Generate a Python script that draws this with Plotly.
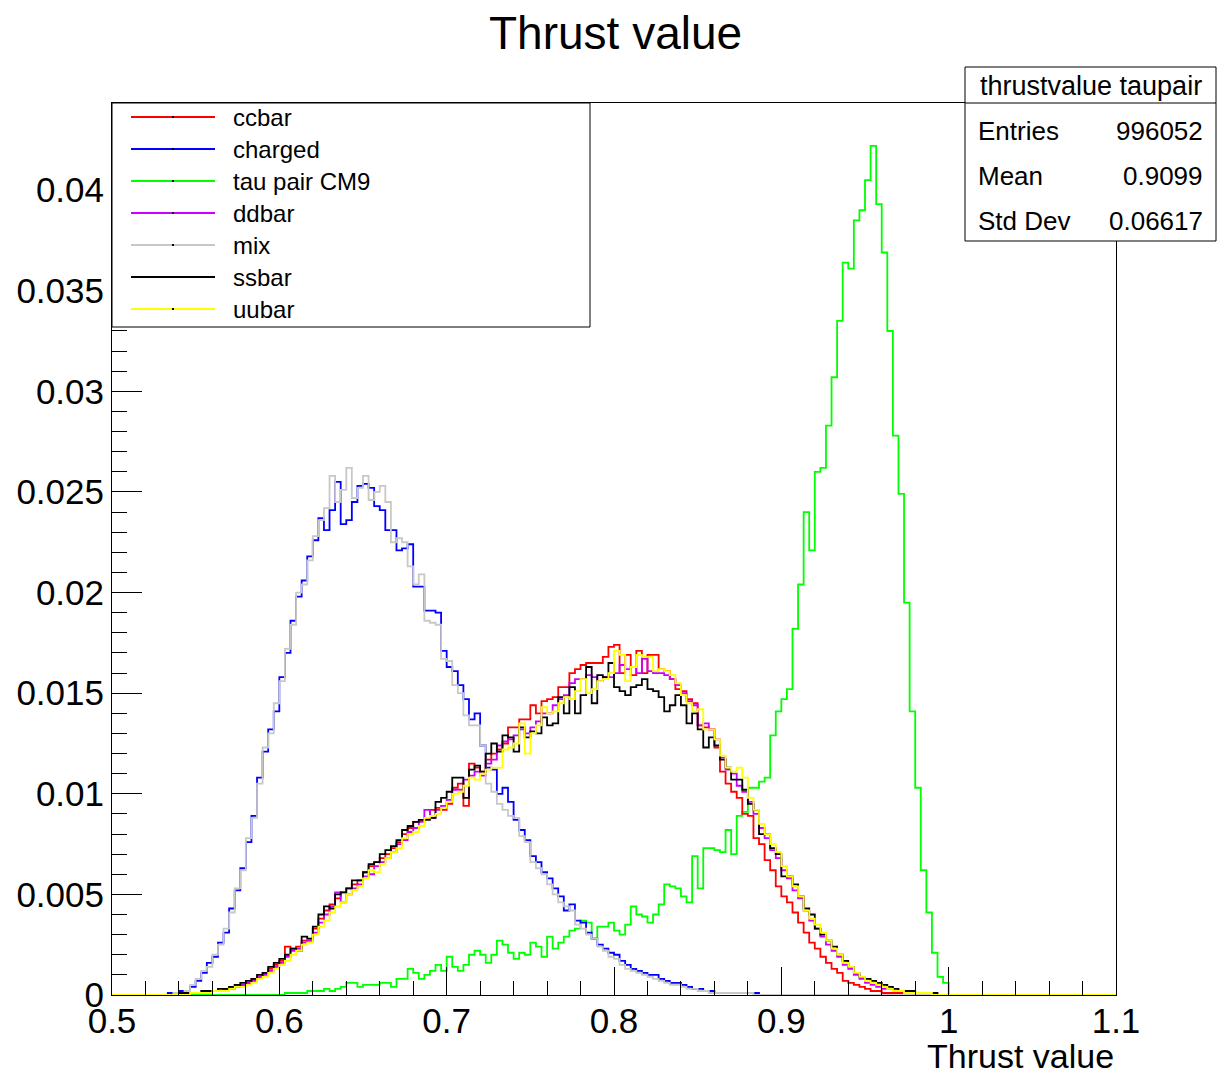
#!/usr/bin/env python3
"""
Thrust value distributions (ROOT-style step histograms) redrawn with plotly.
"""

import numpy as np
import plotly.graph_objects as go

# bins of width 1/300 from 0.5 to 1.0 (values in units of 1e-4); everything above 1.0 is empty
x_lo, x_hi, n_bins = 0.5, 1.1, 180

ccbar = [
    0, 0, 0, 0, 0, 0, 0, 0, 0, 0,
    0, 0, 0, 1, 1, 1, 1, 2, 2, 2,
    3, 4, 5, 5, 6, 8, 9, 11, 13, 15,
    17, 24, 23, 24, 27, 27, 33, 38, 42, 45,
    48, 51, 53, 55, 57, 61, 64, 66, 68, 70,
    73, 76, 80, 83, 86, 87, 88, 92, 93, 92,
    95, 103, 105, 94, 115, 113, 111, 117, 120, 122,
    125, 133, 133, 137, 137, 144, 140, 146, 147, 148,
    153, 153, 160, 162, 164, 165, 165, 165, 168, 173,
    174, 160, 169, 159, 171, 160, 169, 169, 162, 161,
    157, 152, 151, 147, 145, 134, 133, 132, 123, 111,
    105, 101, 98, 90, 89, 78, 75, 67, 62, 54,
    49, 46, 41, 36, 31, 26, 23, 19, 16, 13,
    11, 7, 6, 5, 4, 3, 2, 2, 1, 1,
    1, 1, 1, 1, 0, 0, 0, 0, 0, 0,
]
charged = [
    0, 0, 0, 0, 0, 0, 0, 0, 0, 0,
    1, 1, 2, 2, 4, 7, 11, 16, 19, 26,
    31, 43, 52, 63, 76, 89, 108, 121, 132, 141,
    158, 170, 186, 198, 206, 218, 226, 237, 231, 241,
    255, 234, 236, 245, 253, 254, 252, 243, 241, 231,
    231, 221, 222, 224, 203, 203, 191, 191, 190, 171,
    163, 161, 154, 147, 137, 140, 124, 113, 112, 100,
    103, 96, 87, 82, 77, 69, 66, 61, 58, 53,
    49, 42, 45, 37, 36, 31, 28, 25, 23, 21,
    20, 17, 15, 13, 12, 11, 10, 10, 8, 7,
    6, 6, 5, 4, 3, 3, 2, 2, 1, 1,
    1, 1, 1, 1, 1, 1, 0, 0, 0, 0,
    0, 0, 0, 0, 0, 0, 0, 0, 0, 0,
    0, 0, 0, 0, 0, 0, 0, 0, 0, 0,
    0, 0, 0, 0, 0, 0, 0, 0, 0, 0,
]
tau_pair = [
    0, 0, 0, 0, 0, 0, 0, 0, 0, 0,
    0, 0, 0, 0, 0, 0, 0, 0, 0, 0,
    0, 0, 0, 0, 0, 0, 0, 0, 0, 0,
    0, 1, 1, 1, 1, 2, 2, 2, 3, 2,
    3, 4, 6, 6, 4, 5, 5, 5, 6, 6,
    4, 8, 8, 13, 11, 8, 10, 12, 15, 12,
    19, 14, 12, 15, 20, 22, 20, 16, 20, 27,
    25, 21, 18, 21, 20, 26, 24, 19, 29, 23,
    26, 29, 32, 33, 37, 36, 28, 34, 34, 36,
    32, 30, 35, 44, 40, 39, 36, 40, 45, 55,
    54, 53, 49, 46, 69, 53, 73, 73, 72, 71,
    82, 70, 89, 91, 103, 103, 106, 108, 129, 141,
    147, 152, 182, 204, 240, 221, 260, 262, 283, 307,
    335, 364, 361, 385, 390, 405, 422, 393, 369, 330,
    278, 249, 195, 141, 103, 62, 41, 21, 9, 6,
]
ddbar = [
    0, 0, 0, 0, 0, 0, 0, 0, 0, 0,
    0, 0, 0, 1, 1, 1, 1, 2, 2, 2,
    3, 3, 4, 5, 6, 7, 9, 10, 12, 14,
    16, 19, 22, 23, 26, 27, 31, 36, 40, 44,
    51, 46, 50, 53, 55, 59, 60, 64, 66, 68,
    71, 75, 77, 81, 83, 86, 92, 88, 92, 94,
    97, 102, 102, 107, 109, 111, 109, 115, 117, 124,
    126, 127, 129, 132, 130, 133, 136, 140, 140, 144,
    147, 149, 155, 157, 157, 159, 158, 156, 158, 158,
    160, 164, 162, 163, 160, 167, 161, 160, 160, 159,
    157, 154, 150, 146, 144, 134, 135, 132, 127, 118,
    112, 110, 104, 101, 96, 90, 83, 78, 72, 68,
    62, 58, 52, 48, 42, 37, 33, 29, 25, 22,
    19, 15, 13, 10, 8, 6, 5, 4, 3, 3,
    2, 2, 1, 1, 1, 1, 0, 0, 0, 0,
]
mix = [
    0, 0, 0, 0, 0, 0, 0, 0, 0, 0,
    0, 1, 1, 2, 5, 8, 12, 14, 20, 25,
    33, 41, 53, 62, 78, 88, 105, 123, 130, 145,
    156, 172, 184, 200, 204, 216, 228, 236, 242, 258,
    245, 251, 262, 247, 252, 258, 246, 250, 253, 245,
    225, 227, 225, 213, 204, 209, 186, 185, 184, 167,
    166, 154, 150, 139, 134, 134, 124, 105, 101, 95,
    92, 89, 88, 79, 76, 66, 63, 60, 55, 50,
    46, 44, 42, 35, 33, 30, 28, 24, 22, 19,
    18, 15, 13, 12, 11, 10, 9, 8, 7, 6,
    5, 5, 4, 3, 3, 2, 2, 1, 1, 1,
    1, 1, 1, 1, 1, 0, 0, 0, 0, 0,
    0, 0, 0, 0, 0, 0, 0, 0, 0, 0,
    0, 0, 0, 0, 0, 0, 0, 0, 0, 0,
    0, 0, 0, 0, 0, 0, 0, 0, 0, 0,
]
ssbar = [
    0, 0, 0, 0, 0, 0, 0, 0, 0, 0,
    0, 0, 1, 1, 1, 1, 2, 2, 2, 3,
    3, 4, 5, 6, 7, 8, 10, 11, 14, 16,
    18, 20, 23, 22, 29, 28, 34, 40, 44, 43,
    50, 51, 53, 57, 57, 61, 65, 66, 70, 72,
    74, 77, 82, 84, 86, 87, 87, 88, 96, 98,
    101, 108, 108, 98, 112, 114, 111, 120, 125, 121,
    129, 128, 121, 133, 128, 131, 130, 138, 134, 135,
    148, 140, 153, 140, 149, 163, 145, 159, 158, 165,
    153, 151, 149, 153, 154, 157, 152, 151, 148, 141,
    144, 149, 144, 135, 140, 132, 123, 128, 124, 117,
    113, 107, 107, 102, 95, 92, 80, 80, 73, 70,
    59, 59, 55, 49, 43, 40, 33, 30, 27, 24,
    20, 17, 14, 11, 9, 8, 7, 6, 5, 4,
    3, 2, 2, 2, 1, 1, 1, 1, 0, 0,
]
uubar = [
    0, 0, 0, 0, 0, 0, 0, 0, 0, 0,
    0, 0, 0, 0, 1, 1, 1, 1, 2, 2,
    2, 3, 4, 4, 5, 6, 8, 9, 11, 13,
    15, 17, 20, 22, 25, 26, 30, 34, 37, 41,
    44, 46, 50, 52, 54, 58, 62, 61, 65, 68,
    71, 73, 78, 80, 81, 84, 88, 89, 90, 93,
    96, 100, 101, 104, 108, 107, 110, 112, 113, 113,
    122, 123, 125, 135, 120, 130, 134, 143, 140, 141,
    145, 148, 147, 151, 157, 150, 152, 156, 157, 160,
    171, 169, 156, 163, 169, 168, 168, 161, 162, 161,
    159, 155, 149, 145, 141, 142, 132, 132, 127, 119,
    113, 111, 113, 108, 98, 92, 85, 80, 75, 71,
    64, 59, 54, 49, 42, 38, 35, 31, 27, 23,
    20, 16, 14, 11, 9, 7, 6, 5, 4, 3,
    2, 2, 1, 1, 1, 1, 1, 0, 0, 0,
]

legend_names = ["ccbar", "charged", "tau pair CM9", "ddbar", "mix", "ssbar", "uubar"]
legend_colors = ["#ff0000", "#0000ff", "#00ff00", "#cc00ff", "#c8c8c8", "#000000", "#ffff00"]

stats_title = "thrustvalue taupair"
stats_labels = ["Entries", "Mean", "Std Dev"]
stats_values = ["996052", "0.9099", "0.06617"]

FONT = "Liberation Sans, Arial, Helvetica, sans-serif"

# page geometry (the page body adds an 8 px offset around the figure)
PAGE_OFF = 8
W, H = 1230 - PAGE_OFF, 1074 - PAGE_OFF
L, R, T, B = 112, 1116, 103, 995   # frame edges in page pixels


def px(x):
    return (x - L) / (R - L)


def py(y):
    return (B - y) / (B - T)


def main():
    edges = np.linspace(x_lo, x_hi, n_bins + 1)
    series = {
        "ccbar": ccbar, "charged": charged, "tau pair CM9": tau_pair,
        "ddbar": ddbar, "mix": mix, "ssbar": ssbar, "uubar": uubar,
    }
    colors = dict(zip(legend_names, legend_colors))

    fig = go.Figure()
    # tau pair drawn first (its stat box is shown), the rest with "same"
    draw_order = ["tau pair CM9", "ccbar", "charged", "ddbar", "mix", "ssbar", "uubar"]
    for name in draw_order:
        vals = [v / 1e4 for v in series[name]]
        vals = vals + [0.0] * (n_bins - len(vals))
        fig.add_trace(go.Scatter(
            x=edges,
            y=vals + [vals[-1]],
            mode="lines",
            line=dict(color=colors[name], width=1.8, shape="hv"),
            name=name,
            showlegend=False,
            hoverinfo="skip",
        ))

    fig.update_xaxes(
        range=[x_lo, x_hi], dtick=0.1, tick0=0.5,
        ticks="inside", ticklen=28, tickcolor="black", tickwidth=1,
        minor=dict(dtick=0.02, ticks="inside", ticklen=14, tickcolor="black", tickwidth=1),
        showline=True, linecolor="black", linewidth=1, mirror=True,
        showgrid=False, zeroline=False, automargin=False,
        ticklabelstandoff=-5,
        tickfont=dict(family=FONT, size=35, color="black"),
    )
    fig.update_yaxes(
        range=[0, 0.04433], dtick=0.005, tick0=0,
        ticks="inside", ticklen=30, tickcolor="black", tickwidth=1,
        minor=dict(dtick=0.001, ticks="inside", ticklen=15, tickcolor="black", tickwidth=1),
        showline=True, linecolor="black", linewidth=1, mirror=True,
        showgrid=False, zeroline=False, automargin=False,
        tickfont=dict(family=FONT, size=35, color="black"),
    )

    shapes = []
    annotations = []

    # legend box (top-left corner of the frame)
    shapes.append(dict(type="rect", xref="paper", yref="paper",
                       x0=px(112), x1=px(590), y0=py(327), y1=py(103),
                       line=dict(color="black", width=1), fillcolor="white", layer="above"))
    for k, (name, col) in enumerate(zip(legend_names, legend_colors)):
        yc = 117 + 32 * k
        shapes.append(dict(type="line", xref="paper", yref="paper",
                           x0=px(131), x1=px(215), y0=py(yc), y1=py(yc),
                           line=dict(color=col, width=1.8), layer="above"))
        # tiny marker dot in the middle of each legend line, as ROOT draws it
        shapes.append(dict(type="rect", xref="paper", yref="paper",
                           x0=px(172), x1=px(174), y0=py(yc + 1), y1=py(yc - 1),
                           line=dict(width=0), fillcolor="black", layer="above"))
        annotations.append(dict(x=px(231), y=py(yc), xref="paper", yref="paper",
                                text=name, showarrow=False, xanchor="left", yanchor="middle",
                                font=dict(family=FONT, size=24, color="black")))

    # stats box (top-right, sticking out of the frame)
    shapes.append(dict(type="rect", xref="paper", yref="paper",
                       x0=px(965), x1=px(1216), y0=py(241), y1=py(67),
                       line=dict(color="black", width=1), fillcolor="white", layer="above"))
    shapes.append(dict(type="line", xref="paper", yref="paper",
                       x0=px(965), x1=px(1216), y0=py(103), y1=py(103),
                       line=dict(color="black", width=1), layer="above"))
    annotations.append(dict(x=px(1091), y=py(86), xref="paper", yref="paper",
                            text=stats_title, showarrow=False, xanchor="center", yanchor="middle",
                            font=dict(family=FONT, size=27, color="black")))
    for k, (lab, val) in enumerate(zip(stats_labels, stats_values)):
        yc = 131 + 45 * k
        annotations.append(dict(x=px(976), y=py(yc), xref="paper", yref="paper",
                                text=lab, showarrow=False, xanchor="left", yanchor="middle",
                                font=dict(family=FONT, size=26, color="black")))
        annotations.append(dict(x=px(1205), y=py(yc), xref="paper", yref="paper",
                                text=val, showarrow=False, xanchor="right", yanchor="middle",
                                font=dict(family=FONT, size=26, color="black")))

    # title and x-axis title
    annotations.append(dict(x=px(615), y=py(33), xref="paper", yref="paper",
                            text="Thrust value", showarrow=False, xanchor="center", yanchor="middle",
                            font=dict(family=FONT, size=46, color="black")))
    annotations.append(dict(x=px(1116), y=py(1056), xref="paper", yref="paper",
                            text="Thrust value", showarrow=False, xanchor="right", yanchor="middle",
                            font=dict(family=FONT, size=34, color="black")))

    fig.update_layout(
        width=W, height=H, autosize=False,
        margin=dict(l=L - PAGE_OFF, r=W + PAGE_OFF - R, t=T - PAGE_OFF, b=H + PAGE_OFF - B),
        paper_bgcolor="white", plot_bgcolor="white",
        showlegend=False,
        shapes=shapes, annotations=annotations,
    )

    fig.write_html("out.html")


if __name__ == "__main__":
    main()
